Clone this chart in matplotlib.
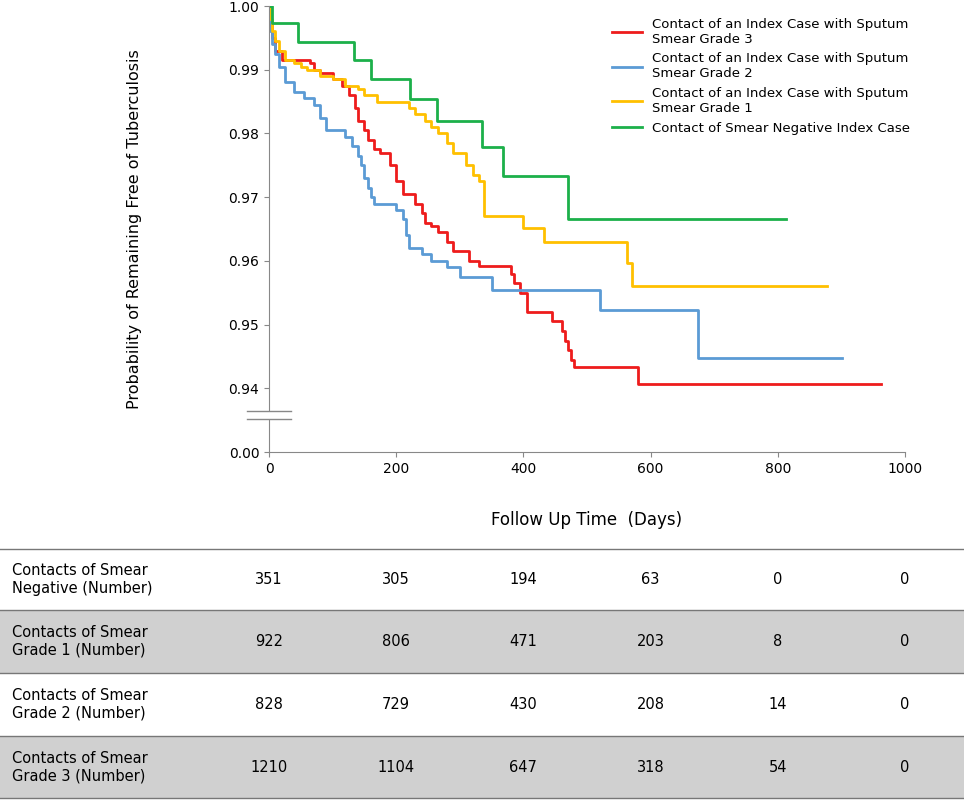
import matplotlib.pyplot as plt
from matplotlib.patches import Rectangle
from matplotlib.lines import Line2D

# step curves (day, survival)
red_t = [0, 2, 5, 10, 20, 65, 70, 80, 100, 115, 125, 135, 140, 150, 155, 165, 175, 190, 200, 210,
         230, 240, 245, 255, 265, 280, 290, 315, 330, 380, 385, 395, 405, 445, 460, 465, 470, 475, 480, 580, 963]
red_s = [1.0, 0.997, 0.995, 0.993, 0.9915, 0.991, 0.990, 0.9895, 0.9885, 0.9875, 0.986, 0.984, 0.982,
         0.9805, 0.979, 0.9775, 0.977, 0.975, 0.9725, 0.9705, 0.969, 0.9675, 0.966, 0.9655, 0.9645, 0.963,
         0.9615, 0.960, 0.9592, 0.958, 0.9565, 0.955, 0.952, 0.9505, 0.949, 0.9475, 0.946, 0.9445, 0.9433,
         0.9406, 0.9406]
blue_t = [0, 2, 5, 10, 15, 25, 40, 55, 70, 80, 90, 120, 130, 140, 145, 150, 155, 160, 165, 200, 210,
          215, 220, 240, 255, 280, 300, 350, 400, 520, 675, 901]
blue_s = [1.0, 0.996, 0.994, 0.9925, 0.9905, 0.988, 0.9865, 0.9855, 0.9845, 0.9825, 0.9805, 0.9795,
          0.978, 0.9765, 0.975, 0.973, 0.9715, 0.970, 0.969, 0.968, 0.9665, 0.964, 0.962, 0.961, 0.960,
          0.959, 0.9575, 0.9555, 0.9555, 0.9523, 0.9448, 0.9448]
yellow_t = [0, 2, 5, 10, 15, 25, 40, 50, 60, 80, 100, 120, 140, 150, 170, 220, 230, 245, 255, 265,
            280, 290, 310, 320, 330, 338, 400, 433, 563, 570, 877]
yellow_s = [1.0, 0.998, 0.996, 0.9945, 0.993, 0.9915, 0.991, 0.9905, 0.990, 0.989, 0.9885, 0.9875,
            0.987, 0.986, 0.985, 0.984, 0.983, 0.982, 0.981, 0.980, 0.9785, 0.977, 0.975, 0.9735, 0.9725,
            0.967, 0.9652, 0.963, 0.9597, 0.956, 0.956]
green_t = [0, 5, 45, 134, 160, 222, 264, 335, 368, 470, 813]
green_s = [1.0, 0.9973, 0.9943, 0.9915, 0.9885, 0.9854, 0.9819, 0.9779, 0.9733, 0.9666, 0.9666]

labels = ["Contact of an Index Case with Sputum\nSmear Grade 3",
          "Contact of an Index Case with Sputum\nSmear Grade 2",
          "Contact of an Index Case with Sputum\nSmear Grade 1",
          "Contact of Smear Negative Index Case"]
colors = ["#ee1c1c", "#5b9bd5", "#ffc000", "#1cb04a"]

row_names = ["Contacts of Smear\nNegative (Number)", "Contacts of Smear\nGrade 1 (Number)",
             "Contacts of Smear\nGrade 2 (Number)", "Contacts of Smear\nGrade 3 (Number)"]
row_vals = [[351, 305, 194, 63, 0, 0],
            [922, 806, 471, 203, 8, 0],
            [828, 729, 430, 208, 14, 0],
            [1210, 1104, 647, 318, 54, 0]]
table_days = [0, 200, 400, 600, 800, 1000]

W, H = 964, 800
fig = plt.figure(figsize=(W / 100, H / 100), dpi=100)
ax = fig.add_axes([269 / W, 1 - 452 / H, 636 / W, 446 / H])
for t, s, c, lab in zip([red_t, blue_t, yellow_t, green_t], [red_s, blue_s, yellow_s, green_s], colors, labels):
    ax.step(t, s, where="post", color=c, lw=2, label=lab)
ax.set_xlim(0, 1000)
ax.set_ylim(0.93, 1.0)
ax.set_yticks([0.93, 0.94, 0.95, 0.96, 0.97, 0.98, 0.99, 1.0])
ax.set_yticklabels(["0.00", "0.94", "0.95", "0.96", "0.97", "0.98", "0.99", "1.00"])
ax.set_xticks([0, 200, 400, 600, 800, 1000])
for sp in ["top", "right"]:
    ax.spines[sp].set_visible(False)
ax.spines["left"].set_color("#888888")
ax.spines["bottom"].set_color("#888888")
ax.tick_params(colors="#888888", labelcolor="black", labelsize=10)
# axis break
ax.add_patch(Rectangle((-10, 0.9352), 20, 0.0013, facecolor="white", edgecolor="none", clip_on=False, zorder=5))
for yb in [0.9352, 0.9365]:
    ax.plot([-35, 35], [yb, yb], color="#888888", lw=1, clip_on=False, zorder=6)
ax.set_ylabel("Probability of Remaining Free of Tuberculosis", fontsize=11.5, labelpad=62)
ax.legend(loc="upper left", bbox_to_anchor=(0.52, 1.0), frameon=False, fontsize=9.5,
          handlelength=2.3, labelspacing=0.5)
fig.text(0.5 * (269 + 905) / W, 1 - 520 / H, "Follow Up Time  (Days)", ha="center", va="center", fontsize=12)

# table
bounds = [549, 610, 673, 736, 798]
for i in range(4):
    y0, y1 = bounds[i], bounds[i + 1]
    if i % 2 == 1:
        fig.patches.append(Rectangle((0, 1 - y1 / H), 1, (y1 - y0) / H, transform=fig.transFigure,
                                     facecolor="#d0d0d0", edgecolor="none"))
    yc = 1 - (y0 + y1) / 2 / H
    fig.text(12 / W, yc, row_names[i], ha="left", va="center", fontsize=10.5)
    for d, v in zip(table_days, row_vals[i]):
        fig.text((269 + d * 0.636) / W, yc, str(v), ha="center", va="center", fontsize=10.5)
for yb in bounds:
    fig.add_artist(Line2D([0, 1], [1 - yb / H] * 2, transform=fig.transFigure, color="#777777", lw=1))

fig.savefig("out.png", dpi=100)
